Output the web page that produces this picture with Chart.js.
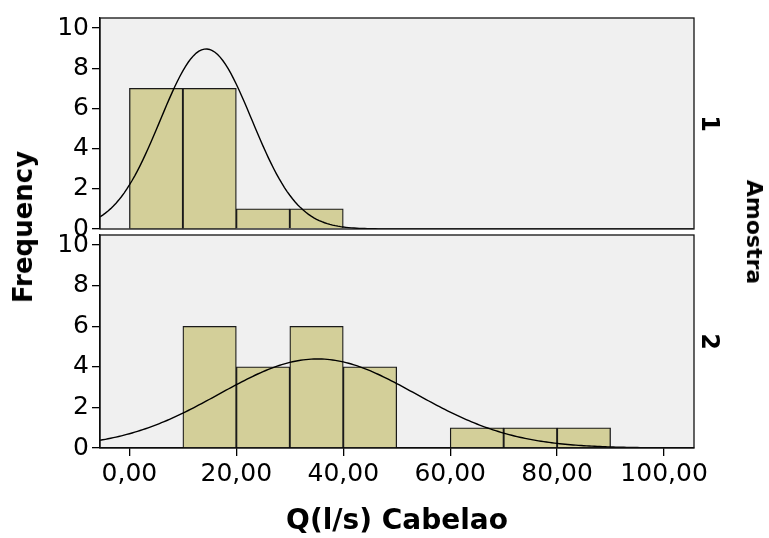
<!DOCTYPE html>
<html>
<head>
<meta charset="utf-8">
<script src="https://cdn.jsdelivr.net/npm/chart.js@4.4.1/dist/chart.umd.min.js"></script>
<style>
  body { margin: 0; background: #fff; }
  #wrap { position: relative; width: 769px; height: 538px; overflow: hidden; font-family: "DejaVu Sans", sans-serif; }
  #wrap canvas { position: absolute; left: 0; top: 0; width: 769px; height: 538px; }
  .lab { position: absolute; font-weight: bold; white-space: nowrap; line-height: 1; color: #000; transform-origin: center; }
  #freq { left: 23px; top: 227px; font-size: 26px; transform: translate(-50%, -50%) rotate(-90deg); }
  #amostra { left: 754px; top: 232px; font-size: 22px; transform: translate(-50%, -50%) rotate(90deg); }
</style>
</head>
<body>
<div id="wrap">
  <canvas id="top" width="769" height="538"></canvas>
  <canvas id="bottom" width="769" height="538"></canvas>
  <div class="lab" id="freq">Frequency</div>
  <div class="lab" id="amostra">Amostra</div>
</div>
<script>
const binWidth = 10
const binStart1 = [0, 10, 20, 30]
const counts1 = [7, 7, 1, 1]
const binStart2 = [10, 20, 30, 40, 60, 70, 80]
const counts2 = [6, 4, 6, 4, 1, 1, 1]
// normal curve: mean, sd, height at the peak
const curve1 = [14.35, 8.55, 8.96]
const curve2 = [35.2, 18.4, 4.39]
const xTicks = [0, 20, 40, 60, 80, 100]
const yTicks = [0, 2, 4, 6, 8, 10]
const panelNames = ['1', '2']
const xTitle = 'Q(l/s) Cabelao'

const xMin = -5.5, xMax = 105.6
const tickFont = { family: '"DejaVu Sans", sans-serif', size: 25 }

const panelFrame = {
  id: 'panelFrame',
  beforeDraw(chart) {
    const { ctx, chartArea: a } = chart
    ctx.save()
    ctx.fillStyle = '#f0f0f0'
    ctx.fillRect(a.left, a.top, a.width, a.height)
    ctx.restore()
  },
  afterDraw(chart) {
    const { ctx, chartArea: a } = chart
    ctx.save()
    ctx.strokeStyle = '#111'
    ctx.lineWidth = 1.3
    ctx.strokeRect(a.left, a.top, a.width, a.height)
    ctx.restore()
  }
}

function curvePoints(c) {
  const pts = []
  for (let x = xMin; x <= xMax; x += 0.5) {
    const z = (x - c[0]) / c[1]
    pts.push({ x: x, y: c[2] * Math.exp(-z * z / 2) })
  }
  return pts
}

function makePanel(id, starts, counts, curve, name, isBottom) {
  new Chart(document.getElementById(id), {
    type: 'bar',
    data: {
      datasets: [{
        type: 'line',
        data: curvePoints(curve),
        borderColor: '#000',
        borderWidth: 1.4,
        pointRadius: 0,
        tension: 0,
        order: 0
      }, {
        type: 'bar',
        data: starts.map((s, i) => ({ x: s + binWidth / 2, y: counts[i] })),
        backgroundColor: '#d3cf99',
        borderColor: '#1a1a1a',
        borderWidth: 1.3,
        barPercentage: 1,
        categoryPercentage: 1,
        order: 1
      }]
    },
    options: {
      responsive: false,
      animation: false,
      devicePixelRatio: 1,
      layout: { padding: isBottom ? { top: 235, bottom: 0 } : { top: 16, bottom: 309 } },
      scales: {
        x: {
          type: 'linear',
          display: isBottom,
          min: xMin,
          max: xMax,
          offset: false,
          afterBuildTicks: s => { s.ticks = xTicks.map(v => ({ value: v })) },
          afterFit: s => { s.height = isBottom ? 90 : 0 },
          grid: { drawOnChartArea: false, offset: false, color: '#000', tickLength: 8, lineWidth: 1.3 },
          border: { color: '#000', width: 1.3 },
          ticks: {
            color: '#000',
            font: tickFont,
            padding: 3,
            maxRotation: 0,
            callback: v => v.toFixed(2).replace('.', ',')
          },
          title: {
            display: isBottom,
            text: xTitle,
            color: '#000',
            font: { family: '"DejaVu Sans", sans-serif', size: 28, weight: 'bold', lineHeight: 1 },
            padding: { top: 0, bottom: 2 }
          }
        },
        y: {
          position: 'left',
          min: 0,
          max: 10.5,
          afterBuildTicks: s => { s.ticks = yTicks.map(v => ({ value: v })) },
          afterFit: s => { s.width = 100 },
          grid: { drawOnChartArea: false, color: '#000', tickLength: 8, lineWidth: 1.3 },
          border: { color: '#000', width: 1.3 },
          ticks: { color: '#000', font: tickFont, padding: 3 }
        },
        yr: {
          type: 'linear',
          position: 'right',
          afterFit: s => { s.width = 75 },
          grid: { display: false },
          border: { display: false },
          ticks: { display: false },
          title: {
            display: true,
            text: name,
            color: '#000',
            font: { family: '"DejaVu Sans", sans-serif', size: 24, weight: 'bold', lineHeight: 1 },
            padding: { top: 49, bottom: 0 }
          }
        }
      },
      plugins: {
        legend: { display: false },
        tooltip: { enabled: false }
      }
    },
    plugins: [panelFrame]
  })
}

makePanel('top', binStart1, counts1, curve1, panelNames[0], false)
makePanel('bottom', binStart2, counts2, curve2, panelNames[1], true)
</script>
</body>
</html>
